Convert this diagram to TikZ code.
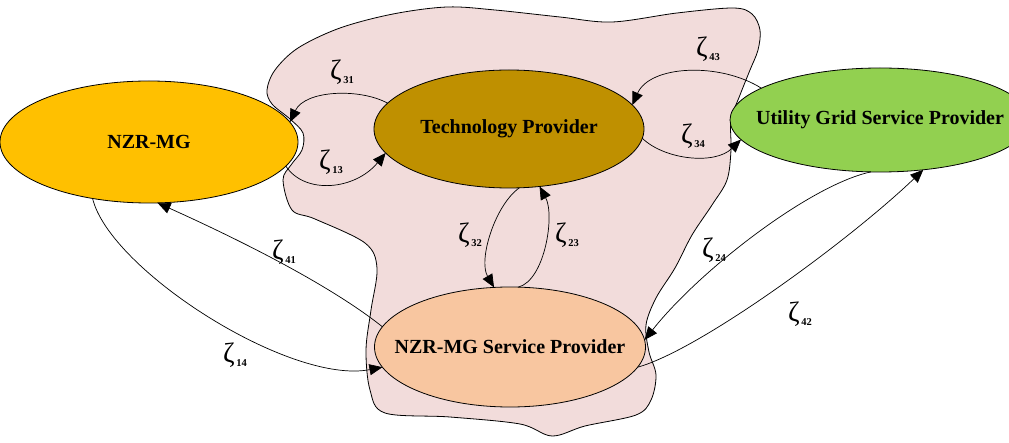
\documentclass[tikz,border=0pt]{standalone}
\usepackage{fontspec}
\setmainfont{Liberation Serif}
\usetikzlibrary{arrows.meta,shapes.geometric}
\definecolor{blobc}{HTML}{F2DCDB}
\definecolor{mgc}{HTML}{FFC000}
\definecolor{tpc}{HTML}{BF9000}
\definecolor{ugc}{HTML}{92D050}
\definecolor{spc}{HTML}{F8C6A0}
\newcommand{\zlab}[1]{{\fontsize{28}{28}\selectfont ζ}\hspace{1.5pt}\raisebox{-4pt}{\fontsize{10.5}{10.5}\selectfont\bfseries #1}}
\newcommand{\ztext}[1]{\makebox[0pt]{#1}}
\tikzset{
  ell/.style={ellipse, draw=black, line width=0.8pt, inner sep=0pt, outer sep=0pt,
    font=\fontsize{20}{24}\selectfont\bfseries},
  conn/.style={-{Triangle[length=13pt,width=11pt]}, line width=0.7pt},
  lab/.style={inner sep=0pt}
}
\begin{document}
\begin{tikzpicture}[x=1pt,y=-1pt]
\useasboundingbox (0,0) rectangle (1009,443);
% cloud region
\draw[fill=blobc, line width=0.8pt] plot[smooth cycle, tension=0.55] coordinates {
 (292,210) (283,180) (291,165) (302,150) (303,133) (290,119) (272,104) (267,90)
 (275,70) (298,48) (340,28) (393,14) (447,7) (495,10) (560,17) (612,22) (677,13)
 (733,8) (752,14) (760,30) (758,50) (750,70) (740,95) (731,120) (731,150)
 (727,180) (712,205) (692,235) (675,268) (656,298) (646,325) (649,352) (656,375)
 (651,400) (636,415) (585,426) (552,436) (520,424) (450,417) (385,413) (370,390)
 (366,350) (371,310) (377,268) (365,243) (315,219)};
% nodes
\node[ell, fill=mgc, minimum width=298pt, minimum height=122pt] (mg) at (149,142) {\ztext{NZR-MG}};
\node[ell, fill=tpc, minimum width=270pt, minimum height=118pt] (tp) at (509,129) {\ztext{Technology Provider}};
\node[ell, fill=ugc, minimum width=300pt, minimum height=104pt] (ug) at (880,120) {\ztext{Utility Grid Service Provider}};
\node[ell, fill=spc, minimum width=271pt, minimum height=120pt] (sp) at (510,347) {\ztext{NZR-MG Service Provider}};
% connectors
\draw[conn] (tp.168) .. controls (360,88) and (305,90) .. (mg.8);
\draw[conn] (mg.-10) .. controls (305,195) and (355,190) .. (tp.191);
\draw[conn] (ug.165) .. controls (720,62) and (650,65) .. (tp.11.7);
\draw[conn] (tp.-4) .. controls (665,160) and (715,165) .. (ug.188);
\draw[conn] (tp.-80) .. controls (495,205) and (478,260) .. (sp.105.8);
\draw[conn] (sp.82) .. controls (545,280) and (555,215) .. (tp.-62);
\draw[conn] (ug.-100.7) .. controls (810,185) and (700,270) .. (sp.3);
\draw[conn] (sp.-9) .. controls (700,350) and (850,240) .. (ug.-49.7);
\draw[conn] (sp.171) .. controls (330,285) and (240,240) .. (mg.-82.5);
\draw[conn] (mg.-135.5) .. controls (110,270) and (290,385) .. (sp.189);
% labels
\node[lab] (l31) at (342,72) {\zlab{31}};
\node[lab] (l13) at (331,162) {\zlab{13}};
\node[lab] (l43) at (708,49) {\zlab{43}};
\node[lab] (l34) at (693,136) {\zlab{34}};
\node[lab] (l32) at (470,235) {\zlab{32}};
\node[lab] (l23) at (567,235) {\zlab{23}};
\node[lab] (l24) at (714,250) {\zlab{24}};
\node[lab] (l42) at (800,314) {\zlab{42}};
\node[lab] (l41) at (284,252) {\zlab{41}};
\node[lab] (l14) at (235,355) {\zlab{14}};
\end{tikzpicture}
\end{document}
